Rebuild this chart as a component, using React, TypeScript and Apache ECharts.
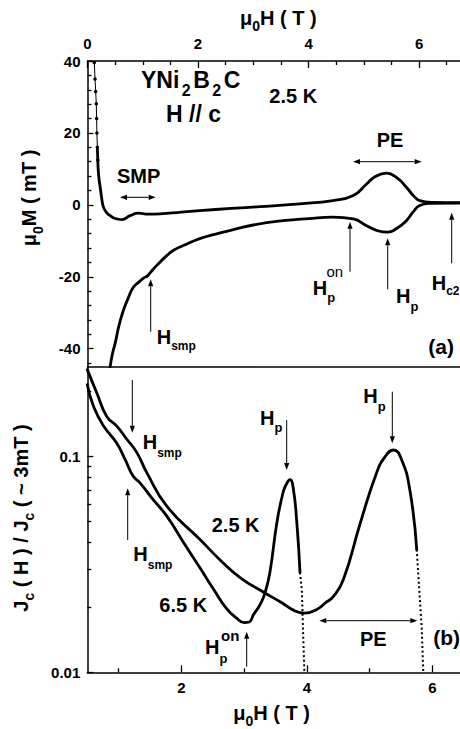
import React, { useEffect, useRef } from "react";
import * as echarts from "echarts";

const FONT = "'Liberation Sans', Arial, Helvetica, sans-serif";

// ---------- axis ticks ----------
const topTicksMajor = [0, 2, 4, 6];
const topTicksMinor = [0.5, 1, 1.5, 2.5, 3, 3.5, 4.5, 5, 5.5, 6.5];
const mTicksMajor = [-40, -20, 0, 20, 40];
const mTicksMinor = [-44, -36, -32, -28, -24, -16, -12, -8, -4, 4, 8, 12, 16, 24, 28, 32, 36];
const botTicksMajor = [2, 4, 6];
const botTicksMinor = [1, 3, 5];
const jTicksMajor = [0.01, 0.1];
const jTicksMinor = [0.02, 0.03, 0.04, 0.05, 0.06, 0.07, 0.08, 0.09, 0.2];

// ---------- panel (a): magnetisation loop at 2.5 K ----------
const steepH = [0.123, 0.136, 0.148, 0.159, 0.165, 0.17, 0.178, 0.186];
const steepM = [39.6, 35, 31.5, 28.1, 24, 20, 16, 12.5];
const upperH = [0.178, 0.186, 0.195, 0.21, 0.23, 0.26, 0.29, 0.35, 0.41, 0.5, 0.62, 0.77, 0.92, 1.1, 1.31, 1.7, 2.03, 2.6, 3.12, 3.84, 4.44, 4.81, 5.05, 5.2, 5.41, 5.6, 5.77, 5.9, 6.01, 6.25, 6.74];
const upperM = [16, 12.5, 9.5, 7, 4.9, 1.5, -0.7, -2.2, -3.0, -3.8, -4.1, -3.0, -2.3, -2.6, -2.5, -2.0, -1.6, -1.0, -0.5, 0.3, 1.2, 2.6, 5.8, 7.8, 8.8, 7.5, 4.9, 2.5, 1.2, 0.7, 0.6];
const lowerH = [0.41, 0.45, 0.5, 0.57, 0.65, 0.74, 0.83, 0.95, 1.02, 1.08, 1.15, 1.25, 1.4, 1.55, 1.8, 2.03, 2.3, 2.64, 3.0, 3.54, 4.0, 4.44, 4.81, 5.05, 5.25, 5.43, 5.6, 5.77, 5.9, 6.01, 6.2, 6.74];
const lowerM = [-45, -41.5, -38.5, -33.5, -29.3, -25.8, -22.9, -21.2, -20.3, -19.8, -18.6, -16.9, -14.6, -12.7, -10.9, -9.4, -8.2, -6.9, -5.6, -4.4, -3.8, -3.4, -3.9, -5.8, -7.2, -7.6, -6.5, -4.4, -1.8, -0.2, 0.4, 0.5];

// ---------- panel (b): Jc(H)/Jc(~3mT) ----------
const h25 = [0.5, 0.65, 0.81, 0.97, 1.13, 1.29, 1.45, 1.77, 2.3, 2.6, 2.93, 3.33, 3.6, 3.8, 3.96, 4.15, 4.3, 4.42, 4.58, 4.85, 5.11, 5.25, 5.38, 5.5, 5.64, 5.75];
const j25 = [0.252, 0.197, 0.153, 0.138, 0.12, 0.104, 0.0838, 0.0586, 0.0411, 0.0335, 0.0275, 0.0233, 0.021, 0.0193, 0.0188, 0.0195, 0.021, 0.0224, 0.0268, 0.049, 0.0838, 0.1, 0.107, 0.098, 0.07, 0.037];
const h25drop = [5.75, 5.78, 5.83, 5.855];
const j25drop = [0.037, 0.027, 0.016, 0.01];
const h65 = [0.5, 0.6, 0.76, 0.97, 1.1, 1.23, 1.34, 1.55, 1.77, 2.08, 2.3, 2.51, 2.72, 2.88, 3.0, 3.08, 3.15, 3.25, 3.33, 3.41, 3.52, 3.62, 3.68, 3.73, 3.78, 3.84, 3.89];
const j65 = [0.215, 0.17, 0.138, 0.115, 0.097, 0.081, 0.0753, 0.063, 0.0527, 0.038, 0.0303, 0.0243, 0.0197, 0.0178, 0.017, 0.0171, 0.0185, 0.0205, 0.0232, 0.029, 0.049, 0.068, 0.075, 0.078, 0.072, 0.049, 0.029];
const h65drop = [3.89, 3.92, 3.94, 3.96];
const j65drop = [0.029, 0.024, 0.015, 0.01];

const zip = (xs: number[], ys: number[]) => xs.map((x, i) => [x, ys[i]]);

// ---------- graphic helpers ----------
function plain(x: number, cy: number, text: string, size = 20, weight: string = "bold") {
  return {
    type: "text", x, y: cy, silent: true,
    style: {
      text, fontSize: size, fontWeight: weight, fontFamily: FONT, fill: "#000",
      align: "left", verticalAlign: "middle", textAlign: "left", textVerticalAlign: "middle",
    },
  };
}

function richStyles(F: number, f: number, dy: number, sp = 0) {
  return {
    m: { fontSize: F, lineHeight: F, fontWeight: "bold", fontFamily: FONT, fill: "#000", verticalAlign: "top", padding: [0, 0, 0, 0] },
    s: { fontSize: f, lineHeight: f, fontWeight: "bold", fontFamily: FONT, fill: "#000", verticalAlign: "top", padding: [F / 2 + dy - f / 2, sp, 0, sp] },
  };
}

function rich(x: number, cy: number, tokens: [string, string][], F = 20, f = 13, dy = 10, sp = 0) {
  return {
    type: "text", x, y: cy - F / 2, silent: true,
    style: {
      text: tokens.map(([t, k]) => `{${k}|${t}}`).join(""),
      rich: richStyles(F, f, dy, sp), fill: "#000",
      align: "left", verticalAlign: "top", textAlign: "left", textVerticalAlign: "top",
    },
  };
}

function richRot(cx: number, cy: number, tokens: [string, string][], F = 20, f = 14, dy = 9) {
  return {
    type: "text", x: cx - F / 2, y: cy, rotation: Math.PI / 2, silent: true,
    style: {
      text: tokens.map(([t, k]) => `{${k}|${t}}`).join(""),
      rich: richStyles(F, f, dy), fill: "#000",
      align: "center", verticalAlign: "top", textAlign: "center", textVerticalAlign: "top",
    },
  };
}

const HL = 7, HW = 2.6;
function head(x: number, y: number, ux: number, uy: number) {
  return {
    type: "polygon", silent: true,
    shape: { points: [[x, y], [x - ux * HL - uy * HW, y - uy * HL + ux * HW], [x - ux * HL + uy * HW, y - uy * HL - ux * HW]] },
    style: { fill: "#000" },
  };
}
function arrow(x1: number, y1: number, x2: number, y2: number, both = false) {
  const dx = x2 - x1, dy = y2 - y1, len = Math.hypot(dx, dy);
  const ux = dx / len, uy = dy / len;
  const els: any[] = [{
    type: "line", silent: true,
    shape: { x1: both ? x1 + ux * HL : x1, y1: both ? y1 + uy * HL : y1, x2: x2 - ux * HL, y2: y2 - uy * HL },
    style: { stroke: "#000", lineWidth: 1 },
  }];
  els.push(head(x2, y2, ux, uy));
  if (both) els.push(head(x1, y1, -ux, -uy));
  return els;
}

function buildOption() {
  const axisLine = { show: true, onZero: false, lineStyle: { color: "#000", width: 1.5 } };
  const lbl = { color: "#000", fontSize: 15, fontWeight: "bold", fontFamily: FONT };
  const tickStyle = { color: "#000", width: 1.3 };
  const noSplit = { show: false };

  const xAxis: any[] = [
    { gridIndex: 0, type: "value", position: "top", min: 0, max: 6.74, axisLine,
      axisTick: { show: true, inside: true, length: 7, customValues: topTicksMajor, lineStyle: tickStyle },
      axisLabel: { show: true, customValues: topTicksMajor, margin: 10, ...lbl }, splitLine: noSplit },
    { gridIndex: 0, type: "value", position: "top", min: 0, max: 6.74, axisLine: { show: false, onZero: false },
      axisTick: { show: true, inside: true, length: 4, customValues: topTicksMinor, lineStyle: tickStyle },
      axisLabel: { show: false }, splitLine: noSplit },
    { gridIndex: 0, type: "value", position: "bottom", min: 0, max: 6.74, axisLine,
      axisTick: { show: false }, axisLabel: { show: false }, splitLine: noSplit },
    { gridIndex: 1, type: "value", position: "bottom", min: 0.5, max: 6.44, axisLine,
      axisTick: { show: true, inside: true, length: 7, customValues: botTicksMajor, lineStyle: tickStyle },
      axisLabel: { show: true, customValues: botTicksMajor, margin: 8, ...lbl }, splitLine: noSplit },
    { gridIndex: 1, type: "value", position: "bottom", min: 0.5, max: 6.44, axisLine: { show: false, onZero: false },
      axisTick: { show: true, inside: true, length: 4, customValues: botTicksMinor, lineStyle: tickStyle },
      axisLabel: { show: false }, splitLine: noSplit },
  ];
  const yAxis: any[] = [
    { gridIndex: 0, type: "value", position: "left", min: -45, max: 40, axisLine,
      axisTick: { show: true, inside: true, length: 6, customValues: mTicksMajor, lineStyle: tickStyle },
      axisLabel: { show: true, customValues: mTicksMajor, margin: 7, ...lbl }, splitLine: noSplit },
    { gridIndex: 0, type: "value", position: "left", min: -45, max: 40, axisLine: { show: false, onZero: false },
      axisTick: { show: true, inside: true, length: 4, customValues: mTicksMinor, lineStyle: tickStyle },
      axisLabel: { show: false }, splitLine: noSplit },
    { gridIndex: 1, type: "log", logBase: 10, position: "left", min: 0.01, max: 0.26, axisLine,
      axisTick: { show: true, inside: true, length: 6, customValues: jTicksMajor, lineStyle: tickStyle },
      axisLabel: { show: true, customValues: jTicksMajor, margin: 7, ...lbl,
        formatter: (v: number) => String(Number(v.toPrecision(3))) }, splitLine: noSplit },
    { gridIndex: 1, type: "log", logBase: 10, position: "left", min: 0.01, max: 0.26, axisLine: { show: false, onZero: false },
      axisTick: { show: true, inside: true, length: 4, customValues: jTicksMinor, lineStyle: tickStyle },
      axisLabel: { show: false }, splitLine: noSplit },
  ];

  const solid = (data: number[][], xi: number, yi: number) => ({
    type: "line", xAxisIndex: xi, yAxisIndex: yi, data, showSymbol: false, symbol: "none",
    smooth: 0.5, silent: true,
    lineStyle: { color: "#000", width: 2.8, join: "round", cap: "round" }, itemStyle: { color: "#000" },
  });
  const dotted = (data: number[][], xi: number, yi: number) => ({
    type: "line", xAxisIndex: xi, yAxisIndex: yi, data, showSymbol: false, symbol: "none", silent: true,
    lineStyle: { color: "#000", width: 2, type: [2, 2.6] }, itemStyle: { color: "#000" },
  });

  const series: any[] = [
    { type: "line", xAxisIndex: 0, yAxisIndex: 0, data: zip(steepH, steepM), showSymbol: true, symbol: "circle",
      symbolSize: 3.5, silent: true, lineStyle: { color: "#000", width: 1 }, itemStyle: { color: "#000" } },
    solid(zip(upperH, upperM), 0, 0),
    solid(zip(lowerH, lowerM), 0, 0),
    solid(zip(h25, j25), 3, 2),
    dotted(zip(h25drop, j25drop), 3, 2),
    solid(zip(h65, j65), 3, 2),
    dotted(zip(h65drop, j65drop), 3, 2),
  ];

  const elements: any[] = [
    // axis titles
    rich(240, 17.5, [["μ", "m"], ["0", "s"], ["H ( T )", "m"]], 20, 14, 8),
    rich(233.3, 713.3, [["μ", "m"], ["0", "s"], ["H ( T )", "m"]], 20, 14, 8),
    richRot(28.5, 198, [["μ", "m"], ["0", "s"], ["M ( mT )", "m"]], 20, 14, 9),
    richRot(21, 518, [["J", "m"], ["c", "s"], [" ( H ) / J", "m"], ["c", "s"], [" ( ~ 3mT )", "m"]], 20, 14, 8),
    // panel (a)
    rich(141, 79.5, [["YNi", "m"], ["2", "s"], ["B", "m"], ["2", "s"], ["C", "m"]], 23, 16, 11, 2.5),
    plain(166, 113.5, "H // c", 23),
    plain(269.3, 95.5, "2.5 K"),
    plain(376.7, 140, "PE"),
    plain(117, 175.8, "SMP"),
    rich(312.7, 287.5, [["H", "m"], ["p", "s"]], 20, 13, 10),
    plain(326.5, 271.6, "on", 15, "normal"),
    rich(396, 296, [["H", "m"], ["p", "s"]], 20, 13, 10),
    rich(431.7, 282.5, [["H", "m"], ["c2", "s"]], 20, 12, 8),
    rich(156.7, 337, [["H", "m"], ["smp", "s"]], 20, 12, 9),
    plain(428.3, 346.5, "(a)", 21),
    ...arrow(120, 197.3, 155.7, 197.3, true),
    ...arrow(353, 161.7, 421.7, 161.7, true),
    ...arrow(350, 271.7, 350, 221.7),
    ...arrow(387.7, 289.3, 387.7, 238.3),
    ...arrow(451.7, 263.3, 451.7, 212.7),
    ...arrow(150.7, 331.7, 150.7, 279.3),
    // panel (b)
    rich(142.7, 442, [["H", "m"], ["smp", "s"]], 20, 12, 10.5),
    rich(260, 417.5, [["H", "m"], ["p", "s"]], 20, 13, 10),
    rich(363.3, 396.3, [["H", "m"], ["p", "s"]], 20, 13, 10),
    rich(133.3, 554, [["H", "m"], ["smp", "s"]], 20, 12, 10.5),
    plain(211.7, 524.5, "2.5 K"),
    plain(159.3, 605, "6.5 K"),
    rich(205, 647, [["H", "m"], ["p", "s"]], 20, 13, 11.5),
    plain(221, 635.3, "on", 15),
    plain(360, 639, "PE"),
    plain(433.3, 637, "(b)", 21),
    ...arrow(132.3, 380, 132.3, 432.7),
    ...arrow(286.7, 420, 286.7, 470),
    ...arrow(392.3, 391.7, 392.3, 443.3),
    ...arrow(127.7, 540, 127.7, 488.3),
    ...arrow(246.7, 666.7, 246.7, 631.7),
    ...arrow(319.3, 620.7, 417.3, 620.7, true),
  ];

  return {
    animation: false,
    backgroundColor: "#fff",
    grid: [
      { left: 87.5, top: 61, width: 372.5, height: 305.7, containLabel: false, outerBoundsMode: "none" },
      { left: 87.3, top: 366.7, width: 372.7, height: 305.6, containLabel: false, outerBoundsMode: "none" },
    ],
    xAxis, yAxis, series,
    graphic: { elements },
  };
}

export default function App() {
  const ref = useRef<HTMLDivElement>(null);
  useEffect(() => {
    if (!ref.current) return;
    const chart = echarts.init(ref.current, null, { renderer: "svg" });
    chart.setOption(buildOption() as any);
    return () => chart.dispose();
  }, []);
  return (
    <div
      ref={ref}
      style={{ position: "absolute", left: 0, top: 0, width: 460, height: 729, background: "#fff" }}
    />
  );
}
